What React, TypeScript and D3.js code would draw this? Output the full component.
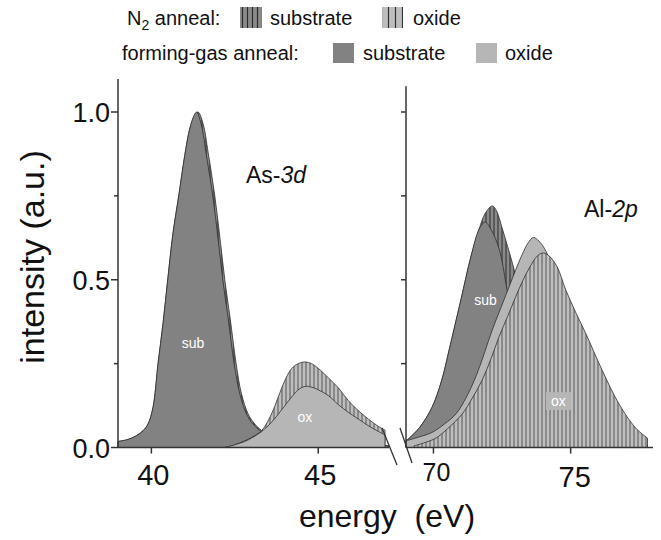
import * as d3 from "d3";
import React from "react";

// As-3d panel, [energy eV, intensity]
const asSubFG: [number, number][] = [
  [39.0, 0.018], [39.3, 0.024], [39.55, 0.035], [39.75, 0.05], [39.9, 0.07],
  [40.05, 0.12], [40.2, 0.25], [40.35, 0.37], [40.49, 0.5], [40.65, 0.64],
  [40.82, 0.75], [41.0, 0.87], [41.15, 0.95], [41.28, 0.99], [41.36, 1.0],
  [41.5, 0.96], [41.65, 0.87], [41.84, 0.75], [42.0, 0.62], [42.14, 0.5],
  [42.3, 0.385], [42.48, 0.25], [42.65, 0.16], [42.85, 0.1], [43.05, 0.07],
  [43.3, 0.047], [43.7, 0.03], [44.3, 0.018], [45.0, 0.012], [46.0, 0.008], [47.1, 0.005],
];
const asSubN2: [number, number][] = [
  [39.0, 0.018], [39.3, 0.024], [39.55, 0.035], [39.75, 0.05], [39.9, 0.07],
  [40.05, 0.12], [40.2, 0.25], [40.35, 0.37], [40.49, 0.5], [40.65, 0.64],
  [40.82, 0.75], [41.0, 0.87], [41.15, 0.95], [41.3, 0.99], [41.4, 1.0],
  [41.55, 0.965], [41.7, 0.88], [41.9, 0.75], [42.06, 0.62], [42.2, 0.5],
  [42.36, 0.385], [42.54, 0.25], [42.7, 0.16], [42.9, 0.1], [43.1, 0.07],
  [43.35, 0.047], [43.7, 0.032], [44.3, 0.02], [45.0, 0.013], [46.0, 0.009], [47.1, 0.006],
];
const asOxN2: [number, number][] = [
  [42.2, 0], [42.5, 0.008], [42.8, 0.02], [43.0, 0.03], [43.3, 0.05], [43.6, 0.1],
  [43.8, 0.15], [44.0, 0.2], [44.2, 0.235], [44.4, 0.25], [44.6, 0.255], [44.8, 0.25],
  [45.0, 0.236], [45.3, 0.208], [45.6, 0.178], [45.9, 0.14], [46.2, 0.11],
  [46.5, 0.085], [46.8, 0.063], [47.0, 0.052],
];
const asOxFG: [number, number][] = [
  [42.2, 0], [42.5, 0.008], [42.8, 0.018], [43.0, 0.028], [43.3, 0.047], [43.6, 0.075],
  [43.9, 0.112], [44.2, 0.15], [44.4, 0.172], [44.6, 0.182], [44.8, 0.18],
  [45.0, 0.172], [45.3, 0.155], [45.6, 0.128], [45.9, 0.105], [46.2, 0.085],
  [46.5, 0.065], [46.8, 0.048], [47.0, 0.037],
];

// Al-2p panel
const alSubN2: [number, number][] = [
  [69.0, 0.02], [69.12, 0.028], [69.5, 0.06], [69.95, 0.12], [70.3, 0.2], [70.57, 0.29],
  [71.0, 0.44], [71.37, 0.57], [71.66, 0.65], [71.9, 0.7], [72.15, 0.72], [72.3, 0.705],
  [72.5, 0.655], [72.7, 0.6], [72.94, 0.53], [73.3, 0.4], [73.7, 0.26], [74.2, 0.13],
  [74.7, 0.055], [75.3, 0.02], [76.0, 0.005], [77.8, 0],
];
const alSubFG: [number, number][] = [
  [69.0, 0.02], [69.12, 0.028], [69.5, 0.06], [69.95, 0.12], [70.3, 0.2], [70.57, 0.29],
  [71.0, 0.44], [71.37, 0.57], [71.66, 0.65], [71.88, 0.672], [72.1, 0.65], [72.4, 0.59],
  [72.66, 0.48], [72.9, 0.36], [73.2, 0.22], [73.5, 0.12], [74.0, 0.04], [74.5, 0.015],
  [75.5, 0.003], [77.8, 0],
];
const alOxFG: [number, number][] = [
  [69.0, 0.02], [69.5, 0.032], [69.95, 0.045], [70.4, 0.07], [70.82, 0.1], [71.2, 0.15],
  [71.54, 0.21], [71.85, 0.28], [72.14, 0.35], [72.45, 0.415], [72.76, 0.48], [73.0, 0.53],
  [73.23, 0.575], [73.45, 0.61], [73.64, 0.626], [73.85, 0.615], [74.1, 0.585], [74.5, 0.5],
  [75.0, 0.38], [75.5, 0.25], [76.0, 0.14], [76.5, 0.07], [77.0, 0.03], [77.5, 0.012], [77.8, 0.008],
];
const alOxN2: [number, number][] = [
  [69.3, 0.005], [69.7, 0.015], [70.09, 0.028], [70.5, 0.055], [71.05, 0.1], [71.4, 0.145],
  [71.77, 0.2], [72.1, 0.265], [72.39, 0.33], [72.7, 0.39], [73.0, 0.45], [73.3, 0.505],
  [73.6, 0.55], [73.8, 0.572], [74.0, 0.58], [74.2, 0.572], [74.5, 0.54], [74.82, 0.47],
  [75.2, 0.4], [75.55, 0.34], [76.15, 0.23], [76.76, 0.13], [77.37, 0.058], [77.8, 0.028],
];

const yTicks = [0, 0.5, 1.0];
const yMinor = [0.25, 0.75];
const xTicksLeft = [40, 45];
const xTicksRight = [70, 75];

const DARK = "#828282";
const LIGHT = "#b6b6b6";
const EDGE = "#2e2e2e";
const FONT = "'Liberation Sans', Arial, sans-serif";

export default function App() {
  const xL = d3.scaleLinear().domain([39, 47.12]).range([118, 389]);
  const xR = d3.scaleLinear().domain([69, 78]).range([406, 653]);
  const y = d3.scaleLinear().domain([0, 1]).range([447.5, 112]);

  // smooth spectra through the read-off points
  const areaL = d3.area<[number, number]>()
    .x((d) => xL(d[0])).y0(y(0)).y1((d) => y(d[1])).curve(d3.curveCatmullRom.alpha(0.5));
  const areaR = d3.area<[number, number]>()
    .x((d) => xR(d[0])).y0(y(0)).y1((d) => y(d[1])).curve(d3.curveCatmullRom.alpha(0.5));

  const shape = (d: string | null, fill: string, key: string) => (
    <path key={key} d={d || ""} fill={fill} stroke={EDGE} strokeWidth={0.8} strokeLinejoin="round" />
  );

  return (
    <svg width={661} height={540} style={{ position: "absolute", left: 0, top: 0, background: "#fff" }} fontFamily={FONT}>
      <defs>
        <pattern id="hatchDark" patternUnits="userSpaceOnUse" width={4} height={8}>
          <rect width={4} height={8} fill="#8a8a8a" />
          <line x1={2} y1={0} x2={2} y2={8} stroke="#2a2a2a" strokeWidth={1} />
        </pattern>
        <pattern id="hatchLight" patternUnits="userSpaceOnUse" width={4} height={8}>
          <rect width={4} height={8} fill="#bebebe" />
          <line x1={2} y1={0} x2={2} y2={8} stroke="#4a4a4a" strokeWidth={0.9} />
        </pattern>
        <pattern id="hatchDarkLg" patternUnits="userSpaceOnUse" width={5} height={8}>
          <rect width={5} height={8} fill="#8a8a8a" />
          <line x1={2.5} y1={0} x2={2.5} y2={8} stroke="#2a2a2a" strokeWidth={1.2} />
        </pattern>
        <pattern id="hatchLightLg" patternUnits="userSpaceOnUse" width={7} height={8}>
          <rect width={7} height={8} fill="#bebebe" />
          <line x1={3.5} y1={0} x2={3.5} y2={8} stroke="#333" strokeWidth={1.2} />
        </pattern>
      </defs>

      {/* legend */}
      <g fontSize={20} fill="#111">
        <text x={127} y={25}>N<tspan fontSize={14} dy={5}>2</tspan><tspan dy={-5}> anneal:</tspan></text>
        <rect x={240} y={7} width={22} height={21} fill="url(#hatchDarkLg)" />
        <text x={270} y={25}>substrate</text>
        <rect x={382} y={7} width={21} height={21} fill="url(#hatchLightLg)" />
        <text x={413} y={25}>oxide</text>
        <text x={122} y={60}>forming-gas anneal:</text>
        <rect x={333} y={43} width={21} height={20} fill={DARK} />
        <text x={363} y={60}>substrate</text>
        <rect x={476} y={43} width={21} height={20} fill={LIGHT} />
        <text x={505} y={60}>oxide</text>
      </g>

      {/* As-3d panel: substrate then oxide */}
      {shape(areaL(asSubN2), "url(#hatchDark)", "asSubN2")}
      {shape(areaL(asSubFG), DARK, "asSubFG")}
      {shape(areaL(asOxN2), "url(#hatchLight)", "asOxN2")}
      {shape(areaL(asOxFG), LIGHT, "asOxFG")}

      {/* Al-2p panel */}
      {shape(areaR(alSubN2), "url(#hatchDark)", "alSubN2")}
      {shape(areaR(alSubFG), DARK, "alSubFG")}
      {shape(areaR(alOxFG), LIGHT, "alOxFG")}
      {shape(areaR(alOxN2), "url(#hatchLight)", "alOxN2")}

      {/* inner labels */}
      <g fill="#fff" fontSize={14} textAnchor="middle">
        <text x={xL(41.25)} y={y(0.31) + 5}>sub</text>
        <text x={xL(44.6)} y={y(0.09) + 5}>ox</text>
        <text x={xR(71.9)} y={y(0.44) + 5}>sub</text>
        <rect x={xR(74.1)} y={y(0.165)} width={25} height={18} fill={LIGHT} />
        <text x={xR(74.1) + 12.5} y={y(0.165) + 14}>ox</text>
      </g>
      <text x={246} y={183} fontSize={23} fill="#111">As-<tspan fontStyle="italic">3d</tspan></text>
      <text x={584} y={217} fontSize={23} fill="#111">Al-<tspan fontStyle="italic">2p</tspan></text>

      {/* axes */}
      <g stroke="#333" strokeWidth={1.5} fill="none">
        <line x1={xL.range()[0]} y1={y(0)} x2={xL.range()[1]} y2={y(0)} />
        <line x1={xL.range()[0]} y1={y(0)} x2={xL.range()[0]} y2={y(1.098)} />
        <line x1={xR.range()[0]} y1={y(0)} x2={xR.range()[1]} y2={y(0)} />
        <line x1={xR.range()[0]} y1={y(0)} x2={xR.range()[0]} y2={y(1.077)} />
        {yTicks.map((t) => (
          <line key={"ly" + t} x1={xL.range()[0] - 7} x2={xL.range()[0]} y1={y(t)} y2={y(t)} />
        ))}
        {yMinor.map((t) => (
          <line key={"lm" + t} x1={xL.range()[0] - 4} x2={xL.range()[0]} y1={y(t)} y2={y(t)} />
        ))}
        {[0.25, 0.5, 0.75, 1.0].map((t) => (
          <line key={"ry" + t} x1={xR.range()[0] - 5} x2={xR.range()[0]} y1={y(t)} y2={y(t)} />
        ))}
        {xTicksLeft.map((t) => (
          <line key={"lx" + t} x1={xL(t)} x2={xL(t)} y1={y(0)} y2={y(0) + 6} />
        ))}
        {xTicksRight.map((t) => (
          <line key={"rx" + t} x1={xR(t)} x2={xR(t)} y1={y(0)} y2={y(0) + 6} />
        ))}
        {/* axis break */}
        <line x1={382} y1={428} x2={397} y2={465} strokeWidth={1.3} />
        <line x1={400} y1={428} x2={412} y2={463} strokeWidth={1.3} />
      </g>

      {/* tick labels */}
      <g fontSize={27} fill="#111" textAnchor="end">
        {yTicks.map((t) => (
          <text key={"yl" + t} x={110} y={y(t) + 10}>{t.toFixed(1)}</text>
        ))}
      </g>
      <g fill="#111" textAnchor="middle">
        {xTicksLeft.map((t) => (
          <text key={"xl" + t} x={xL(t) + 2} y={485} fontSize={29}>{t}</text>
        ))}
        {xTicksRight.map((t) => (
          <text key={"xr" + t} x={xR(t) + (t === 70 ? 3 : 4)} y={t === 70 ? 481 : 487} fontSize={t === 70 ? 25 : 29}>{t}</text>
        ))}
      </g>

      {/* axis titles */}
      <text transform="translate(44,257) rotate(-90)" textAnchor="middle" fontSize={34} fill="#111">intensity (a.u.)</text>
      <text x={387} y={527} textAnchor="middle" fontSize={32} fill="#111" style={{ whiteSpace: "pre" }}>energy  (eV)</text>
    </svg>
  );
}
